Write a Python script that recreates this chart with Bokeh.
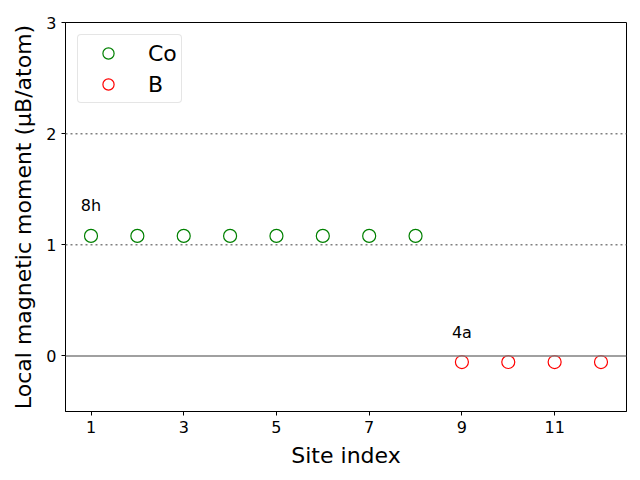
from bokeh.plotting import figure
from bokeh.models import ColumnDataSource, Span, Range1d, FixedTicker, Legend, LegendItem
from bokeh.core.properties import value
from bokeh.embed import file_html
from bokeh.resources import INLINE

co_sites = [1, 2, 3, 4, 5, 6, 7, 8]
co_moments = [1.08, 1.08, 1.08, 1.08, 1.08, 1.08, 1.08, 1.08]
b_sites = [9, 10, 11, 12]
b_moments = [-0.055, -0.055, -0.055, -0.055]
wyckoff_labels = ["8h", "4a"]
x_ticks = [1, 3, 5, 7, 9, 11]
y_ticks = [0, 1, 2, 3]
ref_dotted = [1, 2]

FONT = "DejaVu Sans"

p = figure(width=640, height=480, frame_width=561, frame_height=389,
           output_backend="svg", toolbar_location=None,
           x_range=Range1d(0.45, 12.55), y_range=Range1d(-0.5, 3.0),
           min_border_left=65, min_border_right=14, min_border_top=22, min_border_bottom=69)
p.background_fill_color = "white"
p.border_fill_color = "white"
p.grid.visible = False
p.outline_line_color = "black"
p.outline_line_width = 1

for yv in ref_dotted:
    p.add_layout(Span(location=yv, dimension="width", line_color="#808080",
                      line_dash="2 3", line_width=1.5))
p.add_layout(Span(location=0, dimension="width", line_color="#808080", line_width=1.5))

co_src = ColumnDataSource(dict(x=co_sites, y=co_moments))
b_src = ColumnDataSource(dict(x=b_sites, y=b_moments))
r_co = p.scatter("x", "y", source=co_src, size=13, fill_color=None, line_color="green", line_width=1.2)
r_b = p.scatter("x", "y", source=b_src, size=13, fill_color=None, line_color="red", line_width=1.2)

lab_src = ColumnDataSource(dict(x=[co_sites[0], b_sites[0]],
                                y=[co_moments[0] + 0.19, b_moments[0] + 0.18],
                                t=wyckoff_labels))
p.text("x", "y", text="t", source=lab_src, text_align="center", text_baseline="bottom",
       text_font=value(FONT), text_font_size="16px", text_color="black")

legend = Legend(items=[LegendItem(label="Co", renderers=[r_co]),
                       LegendItem(label="B", renderers=[r_b])],
                location="top_left")
legend.margin = 12
legend.padding = 4
legend.spacing = 3
legend.glyph_width = 52
legend.glyph_height = 28
legend.label_standoff = 14
legend.label_text_font = FONT
legend.label_text_font_size = "22px"
legend.label_text_color = "black"
legend.border_line_color = "#cccccc"
legend.border_line_width = 1
legend.border_radius = 4
legend.background_fill_alpha = 0.8
p.add_layout(legend)

for ax in (p.xaxis[0], p.yaxis[0]):
    ax.axis_line_color = "black"
    ax.major_tick_line_color = "black"
    ax.major_tick_in = 0
    ax.major_tick_out = 4
    ax.minor_tick_line_color = None
    ax.major_label_text_font = FONT
    ax.major_label_text_font_size = "16px"
    ax.major_label_text_color = "black"
    ax.axis_label_text_font = FONT
    ax.axis_label_text_font_size = "22px"
    ax.axis_label_text_font_style = "normal"
    ax.axis_label_text_color = "black"

p.xaxis.ticker = FixedTicker(ticks=x_ticks)
p.yaxis.ticker = FixedTicker(ticks=y_ticks)
p.xaxis.axis_label = "Site index"
p.yaxis.axis_label = "Local magnetic moment (μB/atom)"
p.xaxis.axis_label_standoff = 7
p.yaxis.axis_label_standoff = 7

open("out.html", "w").write(file_html(p, INLINE))
